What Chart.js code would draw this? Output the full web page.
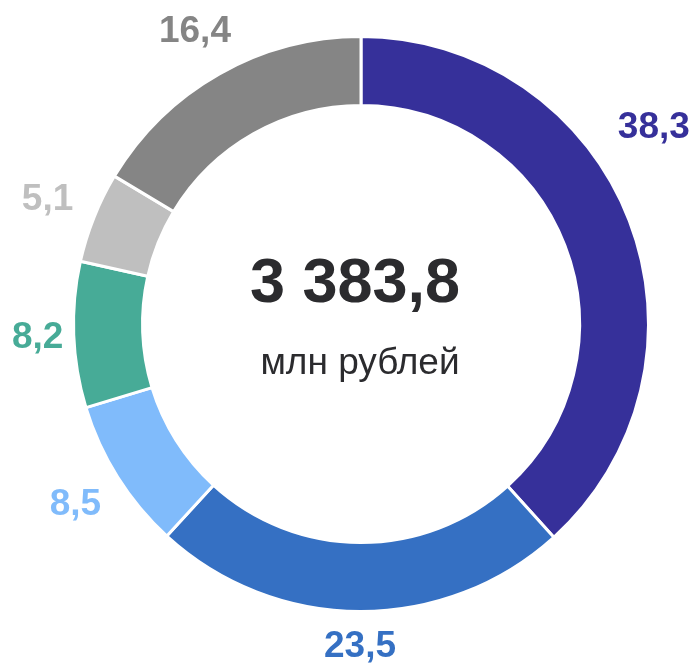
<!DOCTYPE html>
<html>
<head>
<meta charset="utf-8">
<script src="https://cdn.jsdelivr.net/npm/chart.js@4/dist/chart.umd.min.js"></script>
<style>
  html, body { margin: 0; padding: 0; background: #fff; }
  #wrap { width: 696px; height: 665px; position: relative; }
</style>
</head>
<body>
<div id="wrap"><canvas id="chart"></canvas></div>
<script>
const categories = ["Сегмент 1", "Сегмент 2", "Сегмент 3", "Сегмент 4", "Сегмент 5", "Сегмент 6"];
const shares = [38.3, 23.5, 8.5, 8.2, 5.1, 16.4];
const colors = ["#36309a", "#3570c3", "#80bbfb", "#47ab97", "#bfbfbf", "#858585"];
const total = 3383.8;
const unit = "млн рублей";

function fmt(v) {
  const parts = v.toFixed(1).split(".");
  const int = parts[0].replace(/\B(?=(\d{3})+(?!\d))/g, " ");
  return int + "," + parts[1];
}

// расстояние от центра кольца до ближайшей точки рамки подписи
function nearest(d, c, s, hw, hh) {
  let px = d * c, py = d * s;
  px = Math.abs(px) > hw ? Math.abs(px) - hw : 0;
  py = Math.abs(py) > hh ? Math.abs(py) - hh : 0;
  return Math.hypot(px, py);
}

const labelsPlugin = {
  id: "ringLabels",
  afterDatasetsDraw(chart) {
    const ctx = chart.ctx;
    const meta = chart.getDatasetMeta(0);
    const W = chart.width;
    ctx.save();
    ctx.font = "bold 37px 'Liberation Sans', Arial, sans-serif";
    ctx.textAlign = "center";
    ctx.textBaseline = "middle";
    meta.data.forEach((arc, i) => {
      const p = arc.getProps(["x", "y", "startAngle", "endAngle", "outerRadius"], true);
      const text = fmt(shares[i]);
      const hw = ctx.measureText(text).width / 2;
      const hh = 13;
      let a = (p.startAngle + p.endAngle) / 2;
      const target = p.outerRadius + 21;
      let d = target;
      while (nearest(d, Math.cos(a), Math.sin(a), hw, hh) < target) d += 0.5;
      let x = p.x + Math.cos(a) * d;
      let y = p.y + Math.sin(a) * d;
      // справа не влезает — сдвигаем по окружности вверх
      let k = 0;
      while (x + hw > W - 6 && k++ < 300) {
        a -= 0.005;
        x = p.x + Math.cos(a) * (d + 6);
        y = p.y + Math.sin(a) * (d + 6);
      }
      if (x - hw < 12) x = hw + 12;
      ctx.fillStyle = colors[i];
      ctx.fillText(text, x, y + 1);
    });
    const c = meta.data[0];
    ctx.fillStyle = "#2b2b2e";
    ctx.font = "bold 63px 'Liberation Sans', Arial, sans-serif";
    ctx.fillText(fmt(total), c.x - 6, c.y - 39);
    ctx.font = "37px 'Liberation Sans', Arial, sans-serif";
    ctx.fillText(unit, c.x - 1, c.y + 40);
    ctx.restore();
  }
};

new Chart(document.getElementById("chart"), {
  type: "doughnut",
  data: {
    labels: categories,
    datasets: [{
      data: shares,
      backgroundColor: colors,
      borderColor: "#ffffff",
      borderWidth: 3,
      hoverOffset: 0
    }]
  },
  options: {
    responsive: true,
    maintainAspectRatio: false,
    animation: false,
    cutout: "76%",
    layout: { padding: { left: 72, right: 46, top: 35, bottom: 52 } },
    plugins: {
      legend: { display: false },
      tooltip: { enabled: false }
    }
  },
  plugins: [labelsPlugin]
});
</script>
</body>
</html>
